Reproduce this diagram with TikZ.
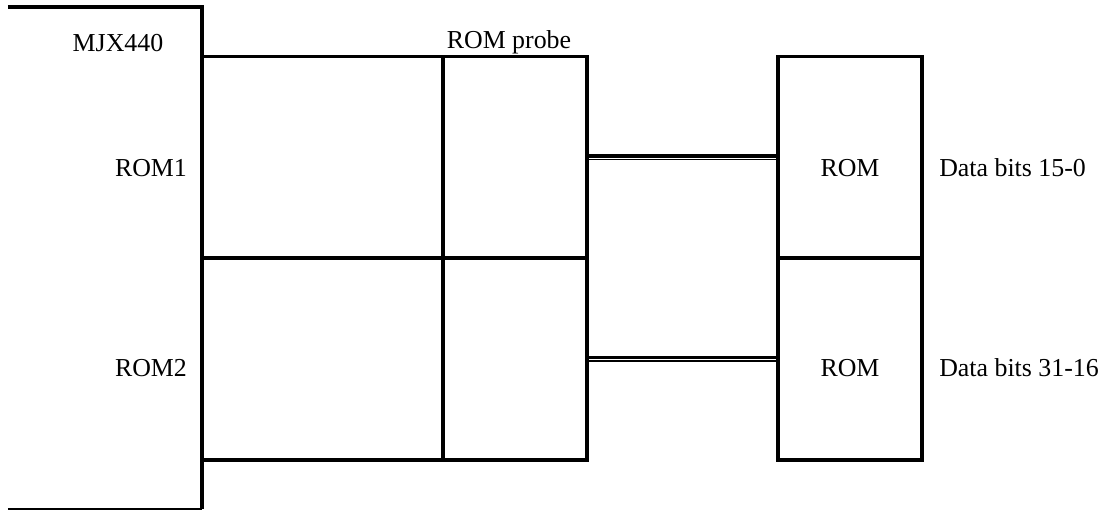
\documentclass[tikz,border=0pt]{standalone}
\usepackage{fontspec}
\setmainfont{Liberation Serif}
\usetikzlibrary{positioning,calc}

\begin{document}
\begin{tikzpicture}[
  font=\fontsize{18.4pt}{22pt}\selectfont,
  heavy/.style={line width=2.5pt, draw=black},
  light/.style={line width=0.9pt, draw=black},
  cell/.style={
    heavy,
    rectangle,
    inner sep=0pt,
    minimum height=5.04cm
  },
  widecell/.style={cell, minimum width=6.025cm},
  narrowcell/.style={cell, minimum width=3.6cm},
  tag/.style={anchor=base, inner sep=0pt, text=black},
  sidetag/.style={anchor=base west, inner sep=0pt, text=black}
]

\path[use as bounding box] (0,0) rectangle (27.7,-12.75);

\coordinate (mjxtl) at (0.2,-0.175);
\coordinate (mjxtr) at (5.05,-0.175);
\coordinate (mjxbr) at (5.05,-12.725);
\coordinate (mjxbl) at (0.2,-12.725);
\draw[light] (mjxbl) -- (mjxbr);
\draw[heavy] (mjxtl) -- (mjxtr) -- (mjxbr);

\node[tag] (mjx) at (2.95,-1.275) {MJX440};
\node[tag] (probe) at (12.725,-1.2) {ROM probe};
\node[tag] (rom1tag) at (3.775,-4.4) {ROM1};
\node[tag] (rom2tag) at (3.775,-9.4) {ROM2};

\node[widecell] (p1a) at (8.0625,-3.9375) {};
\node[narrowcell] (p1b) at (12.875,-3.9375) {};
\node[widecell] (p2a) at (8.0625,-8.975) {};
\node[narrowcell] (p2b) at (12.875,-8.975) {};

\node[narrowcell] (rom1) at (21.25,-3.9375) {};
\node[narrowcell] (rom2) at (21.25,-8.975) {};
\node[tag] (rom1lbl) at (21.25,-4.4) {ROM};
\node[tag] (rom2lbl) at (21.25,-9.4) {ROM};

\node[sidetag] (bits1) at (23.475,-4.4) {Data bits 15-0};
\node[sidetag] (bits2) at (23.475,-9.4) {Data bits 31-16};

\draw[heavy] ([yshift=0.04cm]p1b.east) -- ([yshift=0.04cm]rom1.west);
\draw[light] ([yshift=-0.05cm]p1b.east) -- ([yshift=-0.05cm]rom1.west);
\draw[heavy] ([yshift=0.04cm]p2b.east) -- ([yshift=0.04cm]rom2.west);
\draw[light] ([yshift=-0.05cm]p2b.east) -- ([yshift=-0.05cm]rom2.west);

\end{tikzpicture}
\end{document}
